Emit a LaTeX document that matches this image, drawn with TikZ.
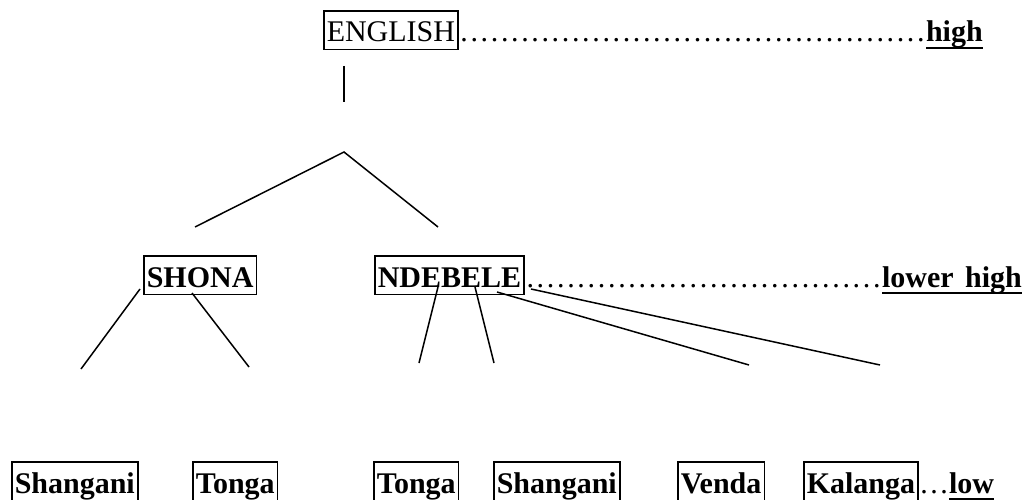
\documentclass[tikz,border=0pt]{standalone}
\usepackage{fontspec}
\setmainfont{Liberation Serif}
\newcommand\ulbf[1]{\setbox0\hbox{\bfseries #1}\rlap{\rule[-7pt]{\wd0}{2.2pt}}\box0}
\newcommand\dotrun[1]{\hbox to #1{\xleaders\hbox to 10pt{\hss.\hss}\hfill}}
\begin{document}
\begin{tikzpicture}[x=1pt,y=-1pt,
  every node/.style={font=\fontsize{30}{36}\selectfont, inner sep=0pt},
  lang/.style={draw, line width=1.5pt, inner xsep=3pt, text height=31pt, text depth=7.5pt, anchor=base west},
  bflang/.style={lang, font=\fontsize{30}{36}\selectfont\bfseries},
  plain/.style={anchor=base west},
  conn/.style={line width=1.5pt}]
\useasboundingbox (0,0) rectangle (1034,500);
% top level
\node[lang] (eng) at (323,42) {ENGLISH};
\node[plain] (hi) at (eng.east |- 0,42) {\dotrun{467pt}\ulbf{high}};
% middle level
\node[bflang] (sho) at (143,287) {SHONA};
\node[bflang] (nde) at (374,287) {NDEBELE};
\node[plain] (lh) at (nde.east |- 0,287) {\dotrun{357pt}\ulbf{lower\hspace{4pt} high}};
% bottom level
\node[bflang] (b1) at (11,493) {Shangani};
\node[bflang] (b2) at (192,493) {Tonga};
\node[bflang] (b3) at (373,493) {Tonga};
\node[bflang] (b4) at (493,493) {Shangani\hspace{8pt}};
\node[bflang] (b5) at (677,493) {Venda};
\node[bflang] (b6) at (803,493) {Kalanga};
\node[plain] (lo) at (b6.east |- 0,493) {\dotrun{30pt}\ulbf{low}};
% connector end points
\coordinate (v1) at (344,66);
\coordinate (v2) at (344,102);
\coordinate (apex) at (344,152);
\coordinate (cl) at (195,227);
\coordinate (cr) at (438,227);
\coordinate (s1a) at (140,289);
\coordinate (s1b) at (81,369);
\coordinate (s2a) at (192,293);
\coordinate (s2b) at (249,367);
\coordinate (n1a) at (438,287);
\coordinate (n1b) at (419,363);
\coordinate (n2a) at (475,287);
\coordinate (n2b) at (494,363);
\coordinate (n3a) at (497,292);
\coordinate (n3b) at (749,365);
\coordinate (n4a) at (531,289);
\coordinate (n4b) at (880,365);
\draw[conn] (v1) -- (v2);
\draw[conn] (cl) -- (apex) -- (cr);
\draw[conn] (s1a) -- (s1b);
\draw[conn] (s2a) -- (s2b);
\draw[conn] (n1a) -- (n1b);
\draw[conn] (n2a) -- (n2b);
\draw[conn] (n3a) -- (n3b);
\draw[conn] (n4a) -- (n4b);
\end{tikzpicture}
\end{document}
